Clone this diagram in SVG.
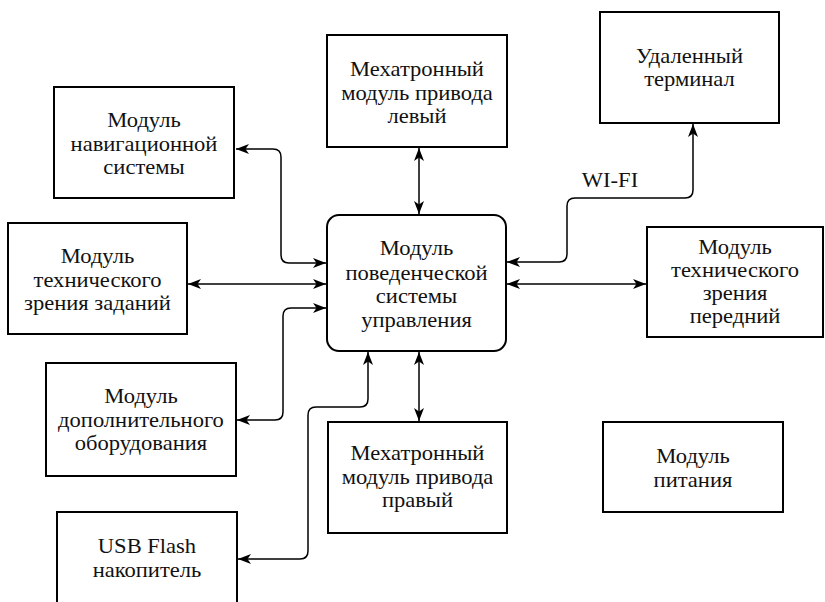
<svg xmlns="http://www.w3.org/2000/svg" width="825" height="602" viewBox="0 0 825 602">
<defs>
<style>
.box{fill:#fff;stroke:#000;stroke-width:2}
.t{font-family:'Liberation Serif',serif;font-size:20.5px;fill:#111;text-anchor:middle}
.c{fill:none;stroke:#000;stroke-width:1.5;marker-start:url(#ah);marker-end:url(#ah)}
</style>
<marker id="ah" markerUnits="userSpaceOnUse" markerWidth="14" markerHeight="10" viewBox="0 0 14 10" refX="13" refY="5" orient="auto-start-reverse">
<path d="M0,0 L13,5 L0,10 L3.5,5 z" fill="#000"/>
</marker>
</defs>
<rect width="825" height="602" fill="#fff"/>
<g id="connectors">
<path class="c" d="M236,149 H273 Q281,149 281,157 V255 Q281,263 289,263 H326"/>
<path class="c" d="M188,284 H326"/>
<path class="c" d="M326,308 H291 Q283,308 283,316 V412 Q283,420 275,420 H237"/>
<path class="c" d="M238,559 H300 Q308,559 308,551 V415 Q308,407 316,407 H360 Q368,407 368,399 V352"/>
<path class="c" d="M419,148 V214"/>
<path class="c" d="M419,352 V421"/>
<path class="c" d="M507,262 H559 Q567,262 567,254 V206 Q567,198 575,198 H685 Q693,198 693,190 V124"/>
<path class="c" d="M507,284 H646"/>
<text class="t" font-family="Liberation Serif, serif" x="610" y="187" transform="matrix(1.1,0,0,1,-61,0)">WI-FI</text>
</g>
<g id="nav" font-family="Liberation Serif, serif">
<rect class="box" x="54" y="87" width="180" height="111"/>
<g transform="matrix(1.1,0,0,1,-14.4,0)">
<text class="t" x="144" y="127">Модуль</text>
<text class="t" x="144" y="151">навигационной</text>
<text class="t" x="144" y="174">системы</text>
</g>
</g>
<g id="mech-left" font-family="Liberation Serif, serif">
<rect class="box" x="327" y="35" width="180" height="112"/>
<g transform="matrix(1.1,0,0,1,-41.7,0)">
<text class="t" x="417" y="76">Мехатронный</text>
<text class="t" x="417" y="100">модуль привода</text>
<text class="t" x="417" y="123">левый</text>
</g>
</g>
<g id="remote" font-family="Liberation Serif, serif">
<rect class="box" x="600" y="12" width="179" height="111"/>
<g transform="matrix(1.1,0,0,1,-68.95,0)">
<text class="t" x="689.5" y="63">Удаленный</text>
<text class="t" x="689.5" y="86">терминал</text>
</g>
</g>
<g id="vision-tasks" font-family="Liberation Serif, serif">
<rect class="box" x="8" y="223" width="179" height="111"/>
<g transform="matrix(1.1,0,0,1,-9.75,0)">
<text class="t" x="97.5" y="263">Модуль</text>
<text class="t" x="97.5" y="287">технического</text>
<text class="t" x="97.5" y="310">зрения заданий</text>
</g>
</g>
<g id="control" font-family="Liberation Serif, serif">
<rect class="box" x="327" y="215" width="179" height="136" rx="12" ry="12"/>
<g transform="matrix(1.1,0,0,1,-41.65,0)">
<text class="t" x="416.5" y="255">Модуль</text>
<text class="t" x="416.5" y="280">поведенческой</text>
<text class="t" x="416.5" y="303">системы</text>
<text class="t" x="416.5" y="327">управления</text>
</g>
</g>
<g id="vision-front" font-family="Liberation Serif, serif">
<rect class="box" x="647" y="227" width="176" height="110"/>
<g transform="matrix(1.1,0,0,1,-73.5,0)">
<text class="t" x="735" y="254">Модуль</text>
<text class="t" x="735" y="277">технического</text>
<text class="t" x="735" y="300">зрения</text>
<text class="t" x="735" y="323">передний</text>
</g>
</g>
<g id="extra" font-family="Liberation Serif, serif">
<rect class="box" x="46" y="363" width="190" height="113"/>
<g transform="matrix(1.1,0,0,1,-14.1,0)">
<text class="t" x="141" y="403">Модуль</text>
<text class="t" x="141" y="427">дополнительного</text>
<text class="t" x="141" y="450">оборудования</text>
</g>
</g>
<g id="usb" font-family="Liberation Serif, serif">
<rect class="box" x="57" y="512" width="180" height="100"/>
<g transform="matrix(1.1,0,0,1,-14.7,0)">
<text class="t" x="147" y="553">USB Flash</text>
<text class="t" x="147" y="577">накопитель</text>
</g>
</g>
<g id="mech-right" font-family="Liberation Serif, serif">
<rect class="box" x="328" y="422" width="179" height="111"/>
<g transform="matrix(1.1,0,0,1,-41.75,0)">
<text class="t" x="417.5" y="460">Мехатронный</text>
<text class="t" x="417.5" y="484">модуль привода</text>
<text class="t" x="417.5" y="507">правый</text>
</g>
</g>
<g id="power" font-family="Liberation Serif, serif">
<rect class="box" x="603" y="422" width="180" height="90"/>
<g transform="matrix(1.1,0,0,1,-69.3,0)">
<text class="t" x="693" y="463">Модуль</text>
<text class="t" x="693" y="487">питания</text>
</g>
</g>
</svg>
